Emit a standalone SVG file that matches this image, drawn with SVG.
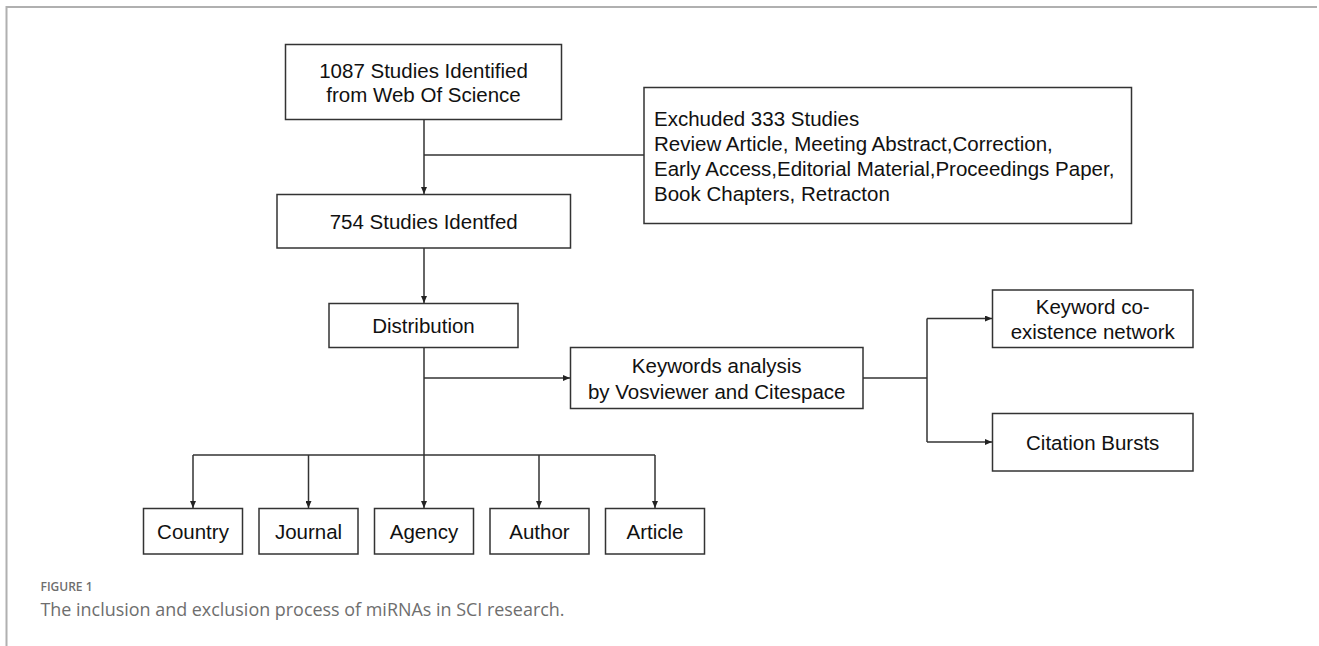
<svg xmlns="http://www.w3.org/2000/svg" width="1319" height="646" viewBox="0 0 1319 646">
<style>
.box{fill:#fff;stroke:#333;stroke-width:1.5}
.t{font-family:"Liberation Sans",Arial,sans-serif;font-size:20.5px;fill:#111}
.c{text-anchor:middle}
.ln{fill:none;stroke:#333;stroke-width:1.5}
.frame{fill:none;stroke:#b0b0b0;stroke-width:2}
.cap{font-family:"Open Sans","Noto Sans",sans-serif;fill:#6e6e6e}
</style>
<defs>
<marker id="ah" markerUnits="userSpaceOnUse" markerWidth="8" markerHeight="6" refX="7" refY="3" orient="auto">
<path d="M0,0 L7,3 L0,6 z" fill="#222"/>
</marker>
</defs>
<rect width="1319" height="646" fill="#fff"/>
<path class="frame" d="M6.5,646 V7 H1317"/>

<g id="connectors">
<line class="ln" x1="424" y1="119" x2="424" y2="194" marker-end="url(#ah)"/>
<line class="ln" x1="424" y1="155" x2="644" y2="155"/>
<line class="ln" x1="424" y1="248" x2="424" y2="303" marker-end="url(#ah)"/>
<line class="ln" x1="424" y1="347" x2="424" y2="508" marker-end="url(#ah)"/>
<line class="ln" x1="424" y1="378" x2="570" y2="378" marker-end="url(#ah)"/>
<line class="ln" x1="193" y1="455" x2="655" y2="455"/>
<line class="ln" x1="193" y1="455" x2="193" y2="508" marker-end="url(#ah)"/>
<line class="ln" x1="308.5" y1="455" x2="308.5" y2="508" marker-end="url(#ah)"/>
<line class="ln" x1="539" y1="455" x2="539" y2="508" marker-end="url(#ah)"/>
<line class="ln" x1="655" y1="455" x2="655" y2="508" marker-end="url(#ah)"/>
<line class="ln" x1="863" y1="378" x2="927" y2="378"/>
<line class="ln" x1="927" y1="318.5" x2="927" y2="442"/>
<line class="ln" x1="927" y1="318.5" x2="992" y2="318.5" marker-end="url(#ah)"/>
<line class="ln" x1="927" y1="442" x2="992" y2="442" marker-end="url(#ah)"/>
</g>

<g id="n1"><rect class="box" x="285.5" y="44.5" width="276" height="75"/>
<text class="t c" x="423.5" y="78">1087 Studies Identified</text>
<text class="t c" x="423.5" y="102">from Web Of Science</text></g>

<g id="n_excl"><rect class="box" x="644" y="87.5" width="487.5" height="136"/>
<text class="t" x="654" y="125.5">Exchuded 333 Studies</text>
<text class="t" x="654" y="150.5">Review Article, Meeting Abstract,Correction,</text>
<text class="t" x="654" y="175.5">Early Access,Editorial Material,Proceedings Paper,</text>
<text class="t" x="654" y="200.5">Book Chapters, Retracton</text></g>

<g id="n2"><rect class="box" x="277" y="194.5" width="293.5" height="53.5"/>
<text class="t c" x="423.7" y="229">754 Studies Identfed</text></g>

<g id="n_dist"><rect class="box" x="329" y="303.5" width="189" height="44"/>
<text class="t c" x="423.5" y="333">Distribution</text></g>

<g id="n_kw"><rect class="box" x="570.5" y="347.5" width="292.5" height="61"/>
<text class="t c" x="716.7" y="373">Keywords analysis</text>
<text class="t c" x="716.7" y="398.5">by Vosviewer and Citespace</text></g>

<g id="n_co"><rect class="box" x="992.5" y="290" width="200.5" height="57.5"/>
<text class="t c" x="1092.7" y="314">Keyword co-</text>
<text class="t c" x="1092.7" y="339">existence network</text></g>

<g id="n_cb"><rect class="box" x="992.5" y="413.5" width="200.5" height="57.5"/>
<text class="t c" x="1092.7" y="449.5">Citation Bursts</text></g>

<g id="n_country"><rect class="box" x="143.5" y="508.5" width="99" height="45.5"/>
<text class="t c" x="193" y="538.5">Country</text></g>
<g id="n_journal"><rect class="box" x="259" y="508.5" width="99" height="45.5"/>
<text class="t c" x="308.5" y="538.5">Journal</text></g>
<g id="n_agency"><rect class="box" x="374.5" y="508.5" width="99" height="45.5"/>
<text class="t c" x="424" y="538.5">Agency</text></g>
<g id="n_author"><rect class="box" x="490" y="508.5" width="99" height="45.5"/>
<text class="t c" x="539.5" y="538.5">Author</text></g>
<g id="n_article"><rect class="box" x="605.5" y="508.5" width="99" height="45.5"/>
<text class="t c" x="655" y="538.5">Article</text></g>

<g id="caption">
<text class="cap" x="40.5" y="591" font-size="12px" font-weight="600" fill="#7a7a7a">FIGURE 1</text>
<text class="cap" x="40.5" y="616" font-size="18px" textLength="524" lengthAdjust="spacingAndGlyphs">The inclusion and exclusion process of miRNAs in SCI research.</text>
</g>
</svg>
